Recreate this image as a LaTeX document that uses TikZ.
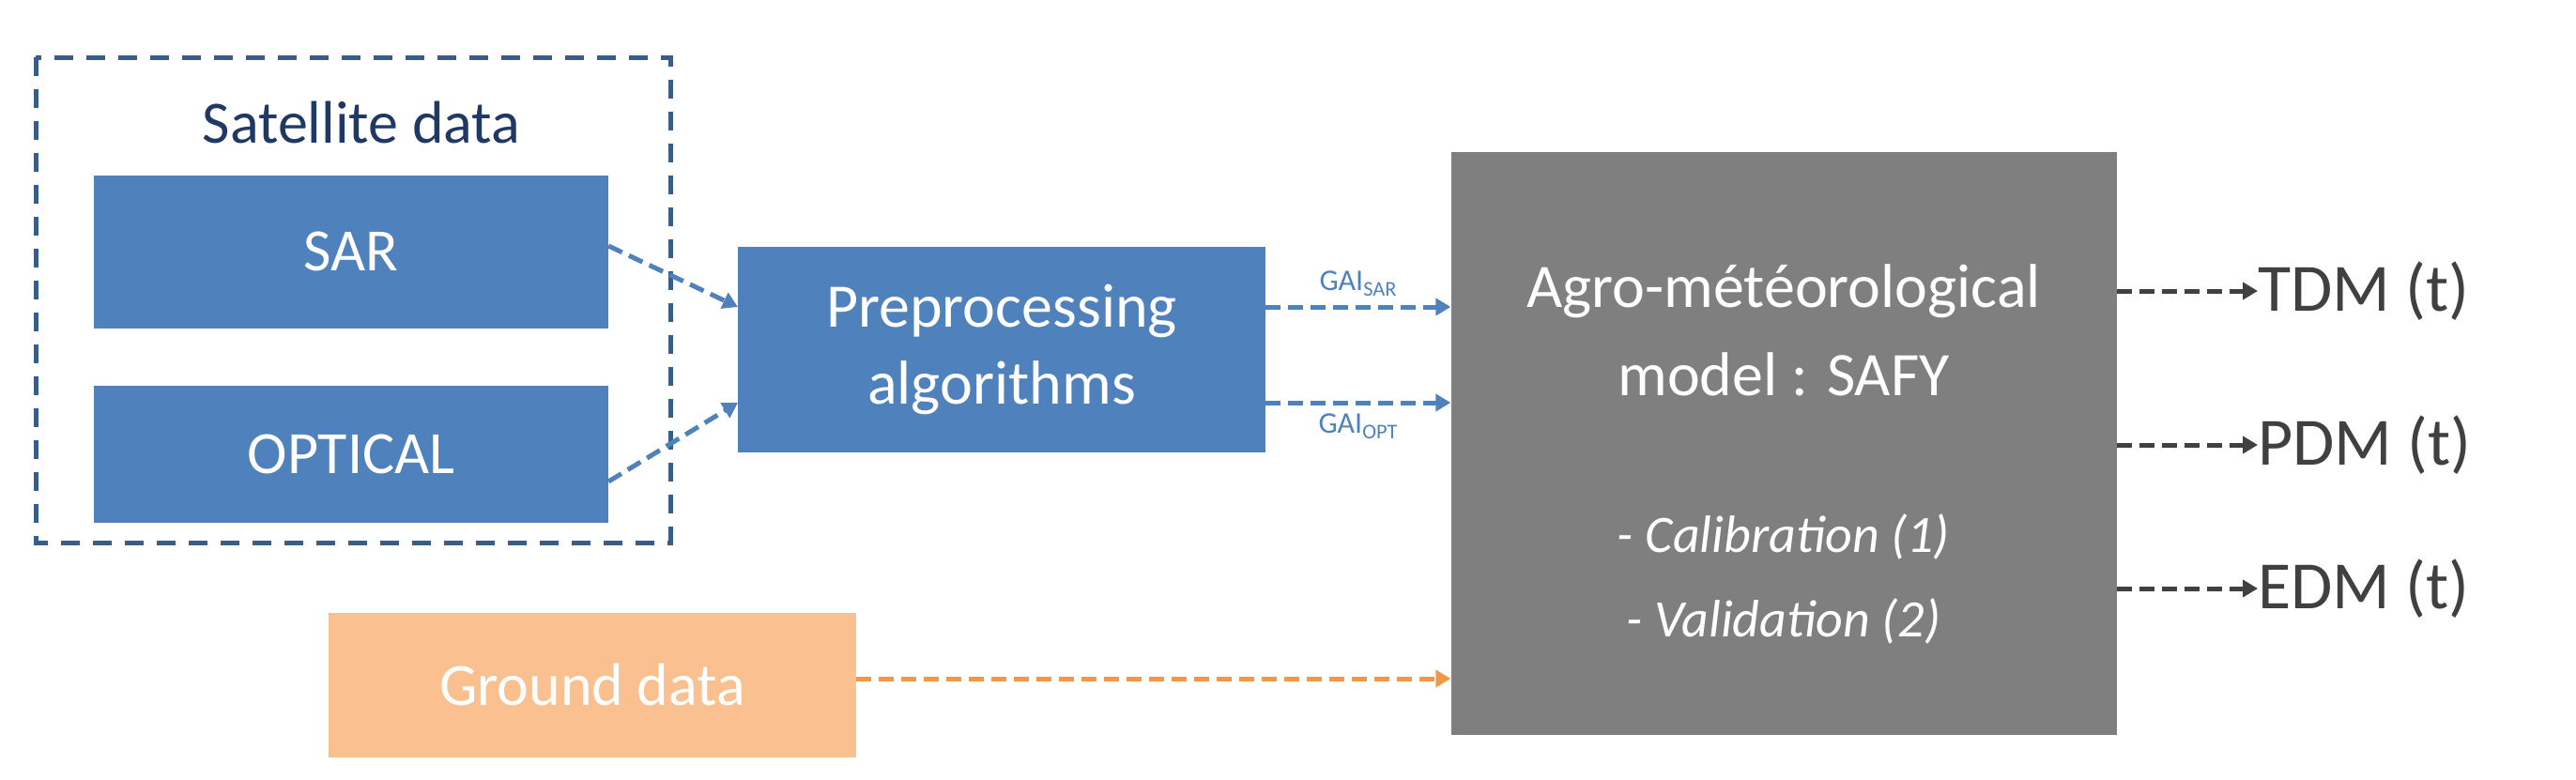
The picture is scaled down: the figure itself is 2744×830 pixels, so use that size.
\documentclass[tikz,border=0pt]{standalone}
\usepackage{fontspec}
\setmainfont{Carlito}
\usetikzlibrary{arrows.meta}
\definecolor{bl}{HTML}{4F81BD}
\definecolor{dbl}{HTML}{385D8A}
\definecolor{nav}{HTML}{1F3864}
\definecolor{orf}{HTML}{FAC090}
\definecolor{ora}{HTML}{F79646}
\definecolor{gr}{HTML}{7F7F7F}
\definecolor{dk}{HTML}{404040}
\tikzset{
 box/.style={inner sep=0pt,align=center,text=white},
 conn/.style={line width=5pt,dash pattern=on 16pt off 8pt,-{Triangle[length=16pt,width=18pt]}},
}
\begin{document}
\begin{tikzpicture}[x=1pt,y=-1pt]
\useasboundingbox (0,0) rectangle (2744,830);
\draw[dbl,line width=5pt,dash pattern=on 20pt off 14pt] (38,61) rectangle (714,578);
\node[text=nav,font=\fontsize{64}{70}\selectfont] (sat) at (385,131) {Satellite data};
\node[box,fill=bl,minimum width=548pt,minimum height=163pt,font=\fontsize{64}{70}\selectfont] (sar) at (374,268) {SAR};
\node[box,fill=bl,minimum width=548pt,minimum height=146pt,font=\fontsize{64}{70}\selectfont] (opt) at (374,484) {OPTICAL};
\node[box,fill=bl,minimum width=562pt,minimum height=219pt,font=\fontsize{66}{82}\selectfont] (pre) at (1067,372) {Preprocessing\\algorithms};
\node[box,fill=gr,minimum width=709pt,minimum height=621pt] (safy) at (1900,472) {};
\node[box,fill=orf,minimum width=562pt,minimum height=154pt,font=\fontsize{64}{70}\selectfont] (gnd) at (631,730) {Ground data};
\node[text=white,font=\fontsize{66}{70}\selectfont] (t1) at (1900,310) {Agro-météorological};
\node[text=white,font=\fontsize{66}{70}\selectfont] (t2) at (1900,399) {model : SAFY};
\node[text=white,font=\fontsize{56}{60}\selectfont\itshape] (t3) at (1900,572) {- Calibration (1)};
\node[text=white,font=\fontsize{56}{60}\selectfont\itshape] (t4) at (1900,662) {- Validation (2)};
\coordinate (pin1) at (786,327);
\coordinate (pin2) at (786,429);
\draw[conn,bl] (sar.east |- 0,262) -- (pin1);
\draw[conn,bl] (opt.east |- 0,513) -- (pin2);
\draw[conn,bl] (pre.east |- 0,327) -- (safy.west |- 0,327) node[pos=0.5,above=6pt,font=\fontsize{32}{34}\selectfont,text=bl] (gs) {GAI\textsubscript{SAR}};
\draw[conn,bl] (pre.east |- 0,429) -- (safy.west |- 0,429) node[pos=0.5,below=6pt,font=\fontsize{32}{34}\selectfont,text=bl] (go) {GAI\textsubscript{OPT}};
\draw[conn,ora] (gnd.east |- 0,723) -- (safy.west |- 0,723);
\foreach \y/\n/\t in {310/tdm/TDM, 474/pdm/PDM, 627/edm/EDM}{
 \node[text=dk,anchor=west,inner sep=0pt,font=\fontsize{72}{76}\selectfont] (\n) at (2405,\y) {\t\ (t)};
 \draw[conn,dk] (safy.east |- \n.west) -- (\n.west);
}
\end{tikzpicture}
\end{document}
